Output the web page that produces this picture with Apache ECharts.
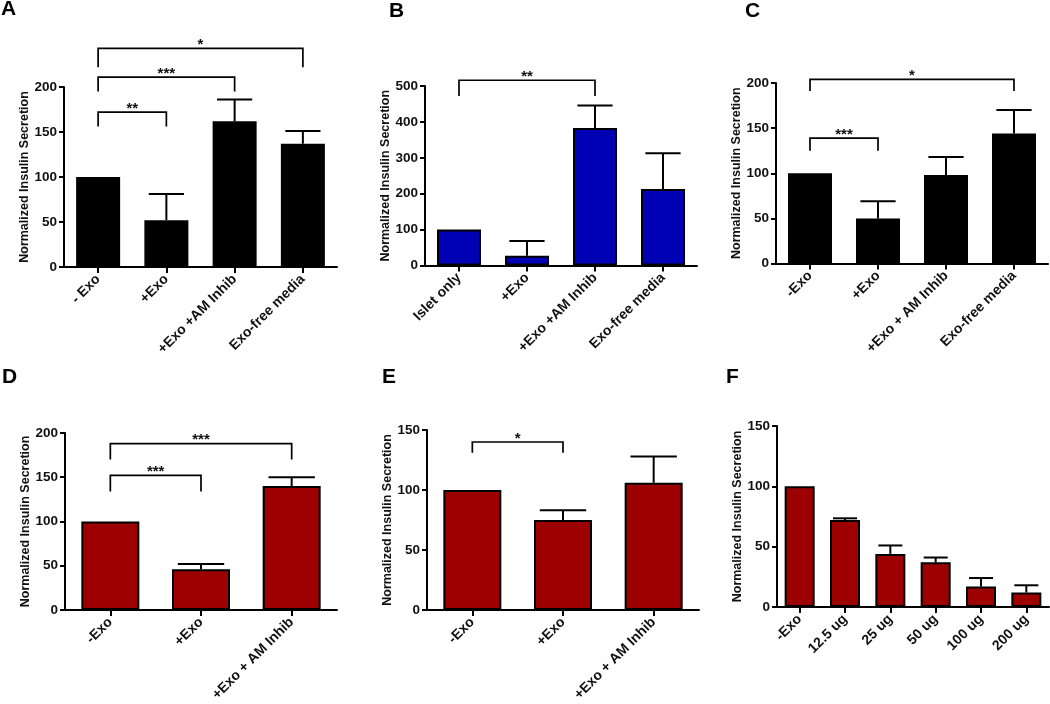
<!DOCTYPE html>
<html>
<head>
<meta charset="utf-8">
<script src="https://cdn.jsdelivr.net/npm/echarts@6/dist/echarts.min.js"></script>
<style>html,body{margin:0;padding:0;background:#fff}#c{width:1050px;height:704px}</style>
</head>
<body>
<div id="c"></div>
<script>
// ---------- data ----------
const catsA = ['- Exo', '+Exo', '+Exo +AM Inhib', 'Exo-free media'];
const valsA = [100, 52, 162, 137];
const errA  = [0, 29, 24, 14];
const sigA  = [[0, 1, 172, 156, '**'], [0, 2, 211, 195, '***'], [0, 3, 243, 222, '*']];

const catsB = ['Islet only', '+Exo', '+Exo +AM Inhib', 'Exo-free media'];
const valsB = [100, 27, 383, 213];
const errB  = [0, 41, 63, 100];
const sigB  = [[0, 2, 516, 472, '**']];

const catsC = ['-Exo', '+Exo', '+Exo + AM Inhib', 'Exo-free media'];
const valsC = [100, 50, 98, 144];
const errC  = [0, 19, 20, 26];
const sigC  = [[0, 1, 139, 125, '***'], [0, 3, 204, 191, '*']];

const catsD = ['-Exo', '+Exo', '+Exo + AM Inhib'];
const valsD = [100, 46, 140];
const errD  = [0, 6, 10];
const sigD  = [[0, 1, 152, 134, '***'], [0, 2, 188, 170, '***']];

const catsE = ['-Exo', '+Exo', '+Exo + AM Inhib'];
const valsE = [100, 75, 106];
const errE  = [0, 8, 22];
const sigE  = [[0, 1, 140, 131, '*']];

const catsF = ['-Exo', '12.5 ug', '25 ug', '50 ug', '100 ug', '200 ug'];
const valsF = [100, 72, 44, 37, 17, 12];
const errF  = [0, 1.5, 7, 4, 7, 6];
const sigF  = [];

const yMax   = [200, 500, 200, 200, 150, 150];
const yStep  = [50, 100, 50, 50, 50, 50];
const yTitle = 'Normalized Insulin Secretion';
const panelLetters = ['A', 'B', 'C', 'D', 'E', 'F'];

// ---------- layout / style ----------
const FONT = '"Liberation Sans", Arial, sans-serif';
const BLUE = '#0000b4', RED = '#9c0000', BLACK = '#000000';
const panels = [
  {cats: catsA, vals: valsA, err: errA, sig: sigA, color: BLACK, grid: {left: 64, width: 273, top: 87, height: 180}, bw: 44},
  {cats: catsB, vals: valsB, err: errB, sig: sigB, color: BLUE,  grid: {left: 425, width: 272, top: 86, height: 179.5}, bw: 44},
  {cats: catsC, vals: valsC, err: errC, sig: sigC, color: BLACK, grid: {left: 776, width: 272, top: 83, height: 180.5}, bw: 44},
  {cats: catsD, vals: valsD, err: errD, sig: sigD, color: RED,   grid: {left: 65, width: 272, top: 433, height: 181}, bw: 58},
  {cats: catsE, vals: valsE, err: errE, sig: sigE, color: RED,   grid: {left: 427, width: 272, top: 430, height: 180}, bw: 58},
  {cats: catsF, vals: valsF, err: errF, sig: sigF, color: RED,   grid: {left: 777, width: 272, top: 426, height: 181}, bw: 30}
];
const letterPos = [[1, -1], [389, 1], [745, 1], [2, 367], [382, 367], [726, 367]];

const grids = [], xAxes = [], yAxes = [], series = [];
panels.forEach((p, i) => {
  grids.push(Object.assign({containLabel: false}, p.grid));
  xAxes.push({
    type: 'category', gridIndex: i, data: p.cats,
    axisLine: {show: true, lineStyle: {color: '#000', width: 2}},
    axisTick: {show: true, alignWithLabel: true, length: 6, lineStyle: {color: '#000', width: 2}},
    axisLabel: {rotate: 45, margin: 10, fontFamily: FONT, fontWeight: 'bold', fontSize: 14, color: '#111', interval: 0},
    splitLine: {show: false}
  });
  yAxes.push({
    type: 'value', gridIndex: i, min: 0, max: yMax[i], interval: yStep[i],
    name: yTitle, nameLocation: 'middle', nameRotate: 90, nameGap: 31,
    nameTextStyle: {fontFamily: FONT, fontWeight: 'bold', fontSize: 12.5, color: '#111'},
    axisLine: {show: true, lineStyle: {color: '#000', width: 2}},
    axisTick: {show: true, length: 5, lineStyle: {color: '#000', width: 2}},
    axisLabel: {margin: 7, fontFamily: FONT, fontWeight: 'bold', fontSize: 13.5, color: '#111'},
    splitLine: {show: false}
  });
  series.push({
    type: 'bar', xAxisIndex: i, yAxisIndex: i, data: p.vals, barWidth: p.bw,
    itemStyle: {color: p.color, borderColor: '#000', borderWidth: 2},
    silent: true, z: 2
  });
  // error bars (upper only)
  series.push({
    type: 'custom', xAxisIndex: i, yAxisIndex: i, z: 3, silent: true,
    data: p.vals.map((v, k) => [k, v, p.err[k]]),
    encode: {x: 0, y: 1},
    renderItem: (params, api) => {
      const k = api.value(0), v = api.value(1), e = api.value(2);
      if (!e) return null;
      const base = api.coord([k, v]);
      const top = api.coord([k, v + e]);
      const half = p.bw * 0.4;
      return {type: 'group', children: [
        {type: 'line', shape: {x1: base[0], y1: base[1], x2: top[0], y2: top[1]}, style: {stroke: '#000', lineWidth: 2}},
        {type: 'line', shape: {x1: top[0] - half, y1: top[1], x2: top[0] + half, y2: top[1]}, style: {stroke: '#000', lineWidth: 2}}
      ]};
    }
  });
  // significance brackets
  if (p.sig.length) {
    series.push({
      type: 'custom', xAxisIndex: i, yAxisIndex: i, z: 4, silent: true, clip: false,
      data: p.sig.map(s => [s[0], s[1], s[2], s[3], s[4]]),
      dimensions: ['a', 'b', 'y', 'leg', {name: 'lab', type: 'ordinal'}],
      encode: {x: 0, y: 2},
      renderItem: (params, api) => {
        const s = p.sig[params.dataIndex];
        const L = api.coord([s[0], s[2]]);
        const R = api.coord([s[1], s[2]]);
        const Lb = api.coord([s[0], s[3]]);
        return {type: 'group', children: [
          {type: 'polyline', shape: {points: [[L[0], Lb[1]], [L[0], L[1]], [R[0], R[1]], [R[0], Lb[1]]]},
           style: {stroke: '#000', lineWidth: 1.7, fill: null}},
          {type: 'text', style: {x: (L[0] + R[0]) / 2, y: L[1] + 4, text: s[4], textAlign: 'center', textVerticalAlign: 'bottom',
            font: 'bold 15px ' + FONT, fill: '#111'}}
        ]};
      }
    });
  }
});

const graphic = panelLetters.map((t, i) => ({
  type: 'text', left: letterPos[i][0], top: letterPos[i][1],
  style: {text: t, font: 'bold 21px ' + FONT, fill: '#000'}
}));

const chart = echarts.init(document.getElementById('c'), null, {renderer: 'canvas'});
chart.setOption({
  animation: false,
  backgroundColor: '#fff',
  grid: grids, xAxis: xAxes, yAxis: yAxes, series: series, graphic: graphic
});
</script>
</body>
</html>
